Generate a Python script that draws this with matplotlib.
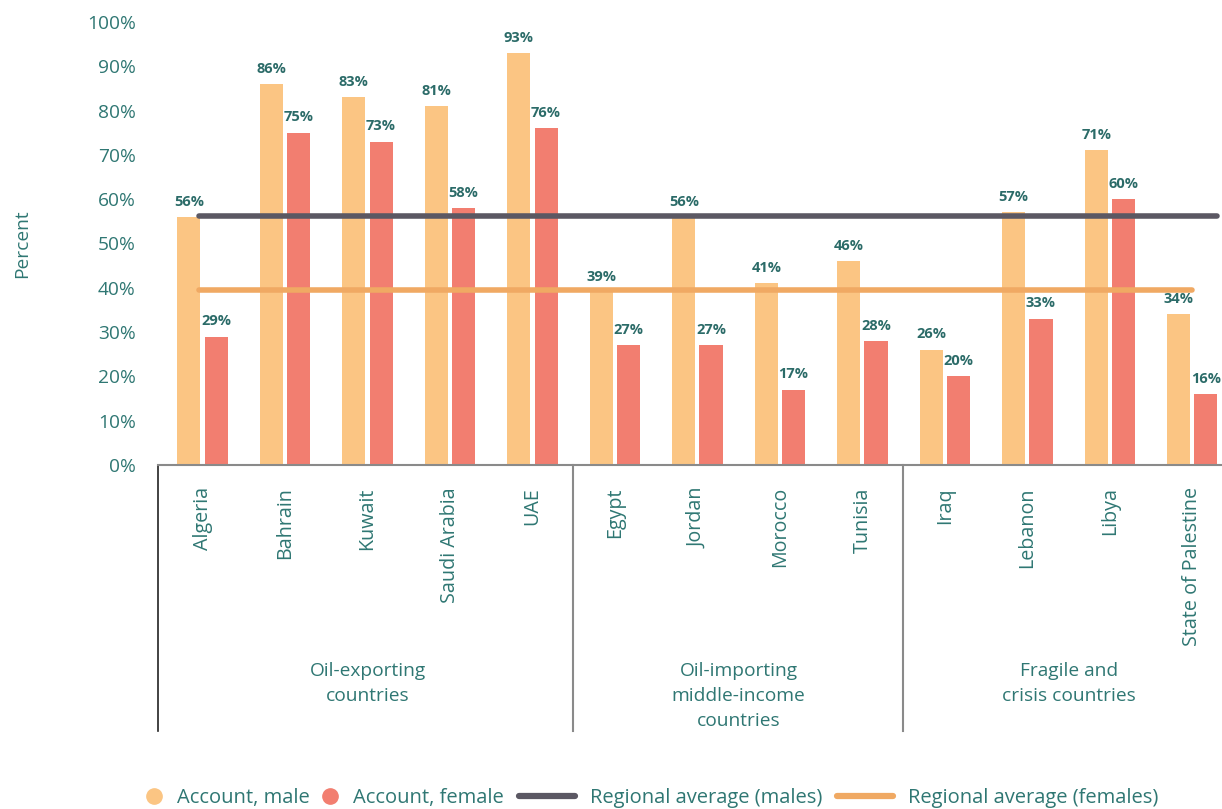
import matplotlib.pyplot as plt
from matplotlib.lines import Line2D
import matplotlib.transforms as mtransforms
import numpy as np

plt.rcParams['font.family'] = ['Open Sans', 'DejaVu Sans']

# Account ownership by country, percent
countries = ['Algeria', 'Bahrain', 'Kuwait', 'Saudi Arabia', 'UAE',
             'Egypt', 'Jordan', 'Morocco', 'Tunisia',
             'Iraq', 'Lebanon', 'Libya', 'State of Palestine']
male = [56, 86, 83, 81, 93, 39, 56, 41, 46, 26, 57, 71, 34]
female = [29, 75, 73, 58, 76, 27, 27, 17, 28, 20, 33, 60, 16]
avg_male = 56.3
avg_female = 39.4
groups = ['Oil-exporting\ncountries',
          'Oil-importing\nmiddle-income\ncountries',
          'Fragile and\ncrisis countries']
group_sizes = [5, 4, 4]

TEAL = '#2f7773'
LABEL = '#2b6b68'
C_MALE = '#fbc583'
C_FEMALE = '#f27e70'
C_AVG_M = '#5b5863'
C_AVG_F = '#f0a963'
FS = 13.8

fig = plt.figure(figsize=(12.22, 8.09), dpi=100)
ax = fig.add_axes([158 / 1222, 344 / 809, 1064 / 1222, 443 / 809])

x = np.arange(len(countries)) + 0.04
w = 0.28
off = 0.165
ax.bar(x - off, male, w, color=C_MALE, zorder=2)
ax.bar(x + off, female, w, color=C_FEMALE, zorder=2)

for xi, m, f in zip(x, male, female):
    ax.annotate(f'{m}%', (xi - off, m), xytext=(0, 6), textcoords='offset points',
                ha='center', va='bottom', fontsize=10.5, fontweight='bold', color=LABEL)
    ax.annotate(f'{f}%', (xi + off, f), xytext=(0, 6), textcoords='offset points',
                ha='center', va='bottom', fontsize=10.5, fontweight='bold', color=LABEL)

# regional averages span the country range
ax.plot([x[0] - 0.04, x[-1] + 0.3], [avg_male] * 2, color=C_AVG_M, lw=4,
        solid_capstyle='round', zorder=3)
ax.plot([x[0] - 0.04, x[-1] + 0.0], [avg_female] * 2, color=C_AVG_F, lw=4,
        solid_capstyle='round', zorder=3)

ax.set_xlim(-0.5, 12.4)
ax.set_ylim(0, 100)
ax.set_yticks(np.arange(0, 101, 10))
ax.set_yticklabels([f'{v}%' for v in range(0, 101, 10)])
ax.tick_params(axis='y', length=0, labelsize=FS, labelcolor=TEAL, pad=16)
ax.set_xticks(x)
ax.set_xticklabels(countries, rotation=90, va='top', ha='center')
ax.tick_params(axis='x', length=0, labelsize=FS + 0.4, labelcolor=TEAL, pad=16)
ax.set_ylabel('Percent', fontsize=FS, color=TEAL, labelpad=40)

for s in ['top', 'right', 'left']:
    ax.spines[s].set_visible(False)
ax.spines['bottom'].set_color('#8a8a8a')
ax.spines['bottom'].set_linewidth(1.5)

# group separators and group names under the axis
trans = mtransforms.blended_transform_factory(ax.transData, ax.transAxes)
bounds = np.concatenate([[0], np.cumsum(group_sizes)]) - 0.5
for i, b in enumerate(bounds[:-1]):
    ax.plot([b + (0.03 if i else 0)] * 2, [0, -0.6], transform=trans,
            color='#222222' if i == 0 else '#8a8a8a', lw=1.2 if i == 0 else 1.5,
            clip_on=False)
for g, lo, hi in zip(groups, bounds[:-1], bounds[1:]):
    ax.text((lo + hi) / 2 + 0.04, -0.445, g, transform=trans, ha='center', va='top',
            fontsize=FS, color=TEAL, linespacing=1.5)

# legend: bar swatches and average lines use different handle lengths
dots = [Line2D([], [], marker='o', ls='none', color=C_MALE, markersize=11),
        Line2D([], [], marker='o', ls='none', color=C_FEMALE, markersize=11)]
lines = [Line2D([], [], color=C_AVG_M, lw=4.5, solid_capstyle='round'),
         Line2D([], [], color=C_AVG_F, lw=4.5, solid_capstyle='round')]
leg1 = fig.legend(dots, ['Account, male', 'Account, female'],
                  loc='center left', bbox_to_anchor=(146 / 1222, 11 / 809), ncol=2,
                  frameon=False, fontsize=14.5, handlelength=0.8, handletextpad=0.75,
                  columnspacing=0.6, borderpad=0, borderaxespad=0)
leg2 = fig.legend(lines, ['Regional average (males)', 'Regional average (females)'],
                  loc='center left', bbox_to_anchor=(519 / 1222, 11 / 809), ncol=2,
                  frameon=False, fontsize=14.5, handlelength=2.8, handletextpad=0.75,
                  columnspacing=0.7, borderpad=0, borderaxespad=0)
for leg in (leg1, leg2):
    for t in leg.get_texts():
        t.set_color(TEAL)

fig.savefig('out.png', dpi=100)
